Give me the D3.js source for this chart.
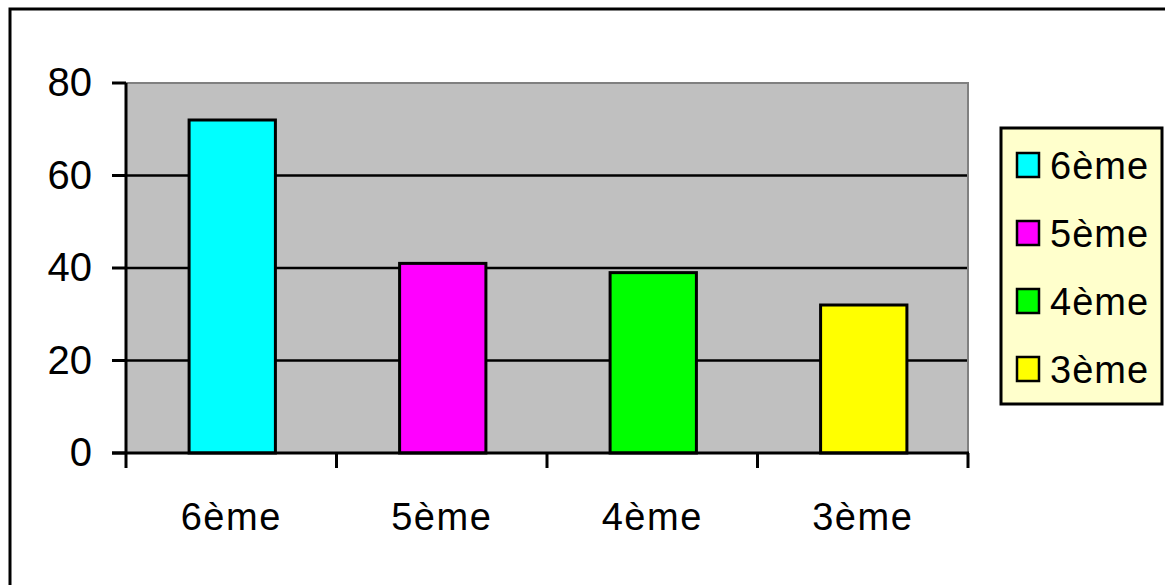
<!DOCTYPE html>
<html>
<head>
<meta charset="utf-8">
<script src="https://cdn.jsdelivr.net/npm/d3@7"></script>
<style>
  body { margin: 0; background: #fff; }
  svg { display: block; }
  text { font-family: "Liberation Sans", Arial, sans-serif; fill: #000; }
</style>
</head>
<body>
<svg id="chart"></svg>
<script>
// data
const levels = ["6ème", "5ème", "4ème", "3ème"];
const counts = [72, 41, 39, 32];
const barColors = ["#00FFFF", "#FF00FF", "#00FF00", "#FFFF00"];
const yTicks = [0, 20, 40, 60, 80];

const width = 1165, height = 585;
const plot = {left: 126, right: 968, top: 83, bottom: 453};

const svg = d3.select("#chart")
  .attr("width", width)
  .attr("height", height);

// outer frame (runs off the right and bottom edges)
svg.append("rect")
  .attr("x", 10).attr("y", 9)
  .attr("width", 1170).attr("height", 600)
  .attr("fill", "#fff")
  .attr("stroke", "#000")
  .attr("stroke-width", 3);

const x = d3.scaleBand()
  .domain(levels)
  .range([plot.left, plot.right])
  .padding(0);

const y = d3.scaleLinear()
  .domain([0, 80])
  .range([plot.bottom, plot.top]);

// plot background
svg.append("rect")
  .attr("x", plot.left).attr("y", plot.top)
  .attr("width", plot.right - plot.left)
  .attr("height", plot.bottom - plot.top)
  .attr("fill", "#C0C0C0");

// top + right border (gray)
svg.append("path")
  .attr("d", `M${plot.left},${plot.top}H${plot.right}V${plot.bottom}`)
  .attr("fill", "none")
  .attr("stroke", "#808080")
  .attr("stroke-width", 2);

// gridlines
svg.append("g")
  .selectAll("line")
  .data(yTicks.filter(d => d > 0 && d < 80))
  .join("line")
  .attr("x1", plot.left).attr("x2", plot.right - 1)
  .attr("y1", d => y(d)).attr("y2", d => y(d))
  .attr("stroke", "#000")
  .attr("stroke-width", 2.5);

// bars
const barW = x.bandwidth() * 0.41;
svg.append("g")
  .selectAll("rect")
  .data(levels)
  .join("rect")
  .attr("x", d => x(d) + (x.bandwidth() - barW) / 2 + 1)
  .attr("y", (d, i) => y(counts[i]))
  .attr("width", barW)
  .attr("height", (d, i) => y(0) - y(counts[i]))
  .attr("fill", (d, i) => barColors[i])
  .attr("stroke", "#000")
  .attr("stroke-width", 3);

// y axis
const yAxis = svg.append("g");
yAxis.append("line")
  .attr("x1", plot.left).attr("x2", plot.left)
  .attr("y1", plot.top).attr("y2", plot.bottom)
  .attr("stroke", "#000").attr("stroke-width", 3);
yAxis.selectAll(".tick")
  .data(yTicks)
  .join("line")
  .attr("class", "tick")
  .attr("x1", 112).attr("x2", plot.left)
  .attr("y1", d => y(d)).attr("y2", d => y(d))
  .attr("stroke", "#000").attr("stroke-width", 3);
yAxis.selectAll("text")
  .data(yTicks)
  .join("text")
  .attr("x", 92)
  .attr("y", d => y(d) - 1)
  .attr("dy", "0.36em")
  .attr("text-anchor", "end")
  .style("font-size", "40px")
  .text(d => d);

// x axis
const xAxis = svg.append("g");
xAxis.append("line")
  .attr("x1", plot.left - 14).attr("x2", plot.right + 1)
  .attr("y1", plot.bottom).attr("y2", plot.bottom)
  .attr("stroke", "#000").attr("stroke-width", 3);
const bounds = levels.map(d => x(d)).concat([plot.right]);
xAxis.selectAll(".tick")
  .data(bounds)
  .join("line")
  .attr("class", "tick")
  .attr("x1", d => d).attr("x2", d => d)
  .attr("y1", plot.bottom).attr("y2", 468)
  .attr("stroke", "#000").attr("stroke-width", 3);
xAxis.selectAll("text")
  .data(levels)
  .join("text")
  .attr("x", d => x(d) + x.bandwidth() / 2)
  .attr("y", 516)
  .attr("dy", "0.36em")
  .attr("text-anchor", "middle")
  .style("font-size", "38px")
  .style("letter-spacing", "1.5px")
  .text(d => d);

// legend
const legend = svg.append("g");
legend.append("rect")
  .attr("x", 1001).attr("y", 128)
  .attr("width", 161).attr("height", 276)
  .attr("fill", "#FFFFCC")
  .attr("stroke", "#000")
  .attr("stroke-width", 3);
const rowY = d3.scalePoint().domain(levels).range([165, 369]);
const item = legend.selectAll(".item")
  .data(levels)
  .join("g")
  .attr("class", "item")
  .attr("transform", d => `translate(0,${rowY(d)})`);
item.append("rect")
  .attr("x", 1017).attr("y", -12)
  .attr("width", 22).attr("height", 24)
  .attr("fill", (d, i) => barColors[i])
  .attr("stroke", "#000")
  .attr("stroke-width", 2.5);
item.append("text")
  .attr("x", 1050)
  .attr("dy", "0.36em")
  .style("font-size", "38px")
  .style("letter-spacing", "1px")
  .text(d => d);
</script>
</body>
</html>
